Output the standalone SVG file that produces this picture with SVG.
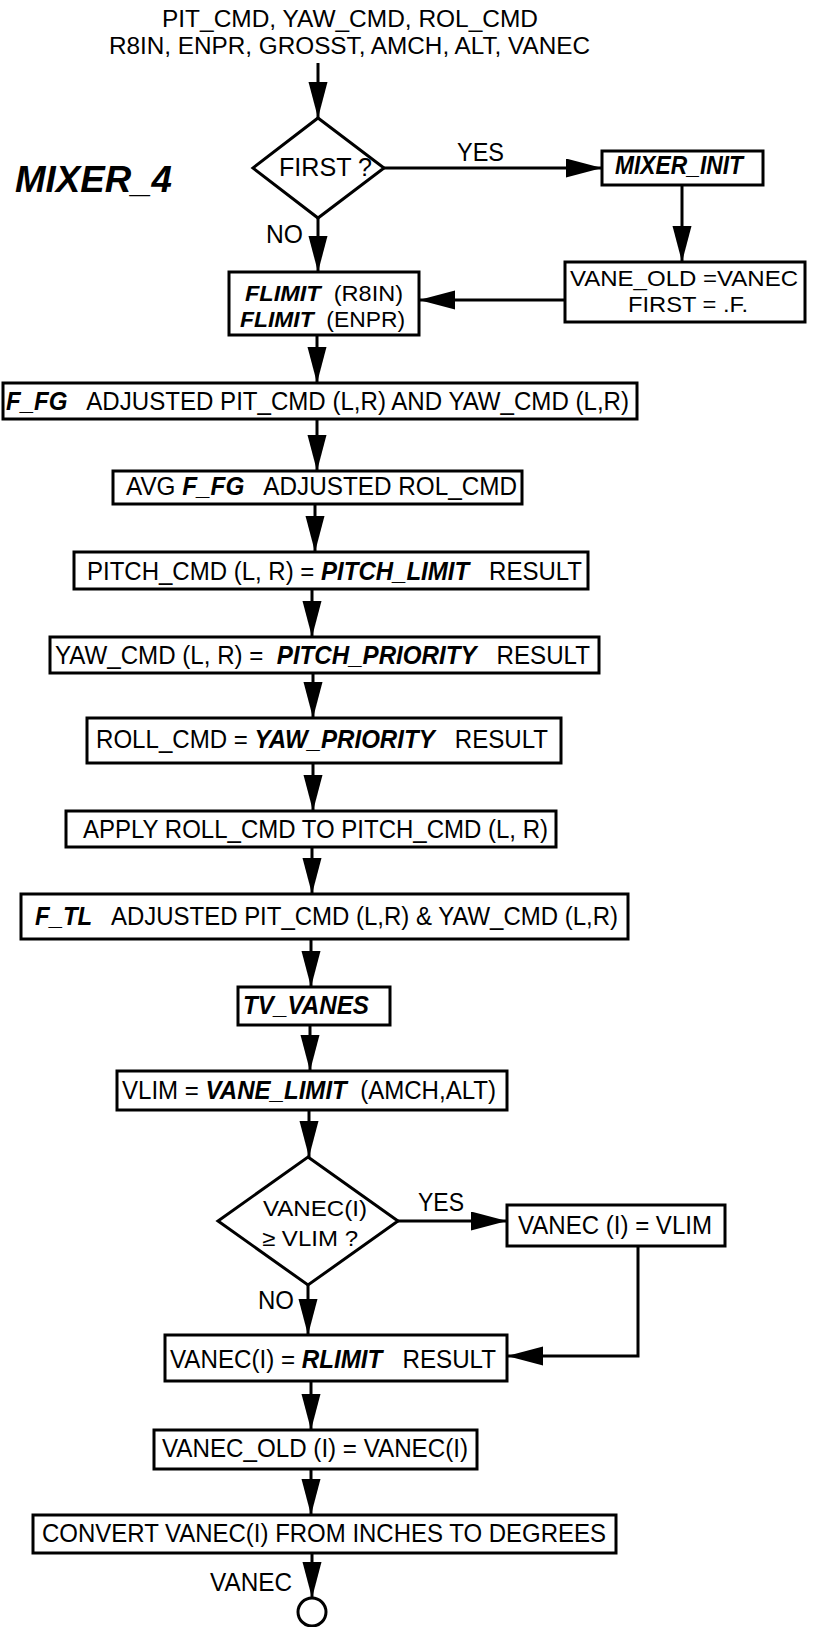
<svg xmlns="http://www.w3.org/2000/svg" width="815" height="1627" viewBox="0 0 815 1627">
<style>
text{font-family:"Liberation Sans",Arial,Helvetica,sans-serif;font-size:25px;fill:#000;white-space:pre}
.bi{font-weight:bold;font-style:italic}
.box{fill:#fff;stroke:#000;stroke-width:3}
.con{fill:none;stroke:#000;stroke-width:3}
.title{font-size:37px;font-weight:bold;font-style:italic}
.hdr{font-size:23px}
.two{font-size:22px}
</style>
<defs>
<marker id="ah" markerUnits="userSpaceOnUse" markerWidth="38" markerHeight="20" refX="36" refY="9.5" orient="auto">
<path d="M0,0 L36,9.5 L0,19 z" fill="#000"/>
</marker>
</defs>
<rect width="815" height="1627" fill="#fff"/>

<g id="inputs">
<text class="hdr" x="162" y="27" textLength="376" lengthAdjust="spacingAndGlyphs">PIT_CMD, YAW_CMD, ROL_CMD</text>
<text class="hdr" x="109" y="54" textLength="481" lengthAdjust="spacingAndGlyphs">R8IN, ENPR, GROSST, AMCH, ALT, VANEC</text>
</g>
<g id="mixer4"><text class="title" x="15" y="192" textLength="157" lengthAdjust="spacingAndGlyphs">MIXER_4</text></g>

<g id="connectors">
<path class="con" d="M318,63 V118" marker-end="url(#ah)"/>
<path class="con" d="M384,168 H602" marker-end="url(#ah)"/>
<path class="con" d="M682,185 V262" marker-end="url(#ah)"/>
<path class="con" d="M565,300 H419" marker-end="url(#ah)"/>
<path class="con" d="M318,218 V272" marker-end="url(#ah)"/>
<path class="con" d="M317,335 V383" marker-end="url(#ah)"/>
<path class="con" d="M317,419 V471" marker-end="url(#ah)"/>
<path class="con" d="M315,504 V552" marker-end="url(#ah)"/>
<path class="con" d="M312,589 V637" marker-end="url(#ah)"/>
<path class="con" d="M313,673 V718" marker-end="url(#ah)"/>
<path class="con" d="M313,763 V811" marker-end="url(#ah)"/>
<path class="con" d="M312,847 V894" marker-end="url(#ah)"/>
<path class="con" d="M311,939 V987" marker-end="url(#ah)"/>
<path class="con" d="M310,1025 V1071" marker-end="url(#ah)"/>
<path class="con" d="M309,1110 V1157" marker-end="url(#ah)"/>
<path class="con" d="M398,1221 H507" marker-end="url(#ah)"/>
<path class="con" d="M638,1246 V1356 H507" marker-end="url(#ah)"/>
<path class="con" d="M308,1285 V1335" marker-end="url(#ah)"/>
<path class="con" d="M311,1381 V1430" marker-end="url(#ah)"/>
<path class="con" d="M311,1469 V1515" marker-end="url(#ah)"/>
<path class="con" d="M312,1553 V1598" marker-end="url(#ah)"/>
<text x="457" y="161" textLength="47" lengthAdjust="spacingAndGlyphs">YES</text>
<text x="266" y="243" textLength="37" lengthAdjust="spacingAndGlyphs">NO</text>
<text x="418" y="1211" textLength="46" lengthAdjust="spacingAndGlyphs">YES</text>
<text x="258" y="1309" textLength="36" lengthAdjust="spacingAndGlyphs">NO</text>
<text x="210" y="1591" textLength="82" lengthAdjust="spacingAndGlyphs">VANEC</text>
</g>

<g id="first">
<polygon class="box" points="318,118 384,168 318,218 253,168"/>
<text x="279" y="176" textLength="93" lengthAdjust="spacingAndGlyphs">FIRST ?</text>
</g>

<g id="mixer_init">
<rect class="box" x="602" y="151" width="161" height="34"/>
<text class="bi" x="615" y="174" textLength="128" lengthAdjust="spacingAndGlyphs">MIXER_INIT</text>
</g>

<g id="vane_old">
<rect class="box" x="565" y="262" width="240" height="60"/>
<text class="two" x="570" y="286" textLength="228" lengthAdjust="spacingAndGlyphs">VANE_OLD =VANEC</text>
<text class="two" x="628" y="312" textLength="120" lengthAdjust="spacingAndGlyphs">FIRST = .F.</text>
</g>

<g id="flimit">
<rect class="box" x="229" y="272" width="190" height="63"/>
<text class="two" x="245" y="301" textLength="158" lengthAdjust="spacingAndGlyphs"><tspan class="bi">FLIMIT</tspan>  (R8IN)</text>
<text class="two" x="240" y="327" textLength="165" lengthAdjust="spacingAndGlyphs"><tspan class="bi">FLIMIT</tspan>  (ENPR)</text>
</g>

<g id="f_fg">
<rect class="box" x="3" y="383" width="634" height="36"/>
<text x="6" y="410" textLength="623" lengthAdjust="spacingAndGlyphs"><tspan class="bi">F_FG</tspan>   ADJUSTED PIT_CMD (L,R) AND YAW_CMD (L,R)</text>
</g>

<g id="avg">
<rect class="box" x="113" y="471" width="409" height="33"/>
<text x="126" y="495" textLength="391" lengthAdjust="spacingAndGlyphs">AVG <tspan class="bi">F_FG</tspan>   ADJUSTED ROL_CMD</text>
</g>

<g id="pitch_cmd">
<rect class="box" x="74" y="552" width="514" height="37"/>
<text x="87" y="580" textLength="495" lengthAdjust="spacingAndGlyphs">PITCH_CMD (L, R) = <tspan class="bi">PITCH_LIMIT</tspan>   RESULT</text>
</g>

<g id="yaw_cmd">
<rect class="box" x="50" y="637" width="549" height="36"/>
<text x="55" y="664" textLength="535" lengthAdjust="spacingAndGlyphs">YAW_CMD (L, R) =  <tspan class="bi">PITCH_PRIORITY</tspan>   RESULT</text>
</g>

<g id="roll_cmd">
<rect class="box" x="87" y="718" width="474" height="45"/>
<text x="96" y="748" textLength="452" lengthAdjust="spacingAndGlyphs">ROLL_CMD = <tspan class="bi">YAW_PRIORITY</tspan>   RESULT</text>
</g>

<g id="apply">
<rect class="box" x="66" y="811" width="490" height="36"/>
<text x="83" y="838" textLength="465" lengthAdjust="spacingAndGlyphs">APPLY ROLL_CMD TO PITCH_CMD (L, R)</text>
</g>

<g id="f_tl">
<rect class="box" x="21" y="894" width="607" height="45"/>
<text x="35" y="925" textLength="583" lengthAdjust="spacingAndGlyphs"><tspan class="bi">F_TL</tspan>   ADJUSTED PIT_CMD (L,R) &amp; YAW_CMD (L,R)</text>
</g>

<g id="tv_vanes">
<rect class="box" x="238" y="987" width="152" height="38"/>
<text class="bi" x="243" y="1014" textLength="126" lengthAdjust="spacingAndGlyphs">TV_VANES</text>
</g>

<g id="vlim">
<rect class="box" x="117" y="1071" width="390" height="39"/>
<text x="122" y="1099" textLength="374" lengthAdjust="spacingAndGlyphs">VLIM = <tspan class="bi">VANE_LIMIT</tspan>  (AMCH,ALT)</text>
</g>

<g id="vanec_check">
<polygon class="box" points="308,1157 398,1221 308,1285 218,1221"/>
<text class="two" x="263" y="1216" textLength="104" lengthAdjust="spacingAndGlyphs">VANEC(I)</text>
<text class="two" x="262" y="1246" textLength="96" lengthAdjust="spacingAndGlyphs">≥ VLIM ?</text>
</g>

<g id="vanec_vlim">
<rect class="box" x="507" y="1205" width="218" height="41"/>
<text x="518" y="1234" textLength="194" lengthAdjust="spacingAndGlyphs">VANEC (I) = VLIM</text>
</g>

<g id="rlimit">
<rect class="box" x="165" y="1335" width="342" height="46"/>
<text x="170" y="1368" textLength="326" lengthAdjust="spacingAndGlyphs">VANEC(I) = <tspan class="bi">RLIMIT</tspan>   RESULT</text>
</g>

<g id="vanec_old">
<rect class="box" x="154" y="1430" width="323" height="39"/>
<text x="162" y="1457" textLength="306" lengthAdjust="spacingAndGlyphs">VANEC_OLD (I) = VANEC(I)</text>
</g>

<g id="convert">
<rect class="box" x="33" y="1515" width="583" height="38"/>
<text x="42" y="1542" textLength="564" lengthAdjust="spacingAndGlyphs">CONVERT VANEC(I) FROM INCHES TO DEGREES</text>
</g>

<g id="end">
<circle class="box" cx="312" cy="1612" r="14"/>
</g>
</svg>
